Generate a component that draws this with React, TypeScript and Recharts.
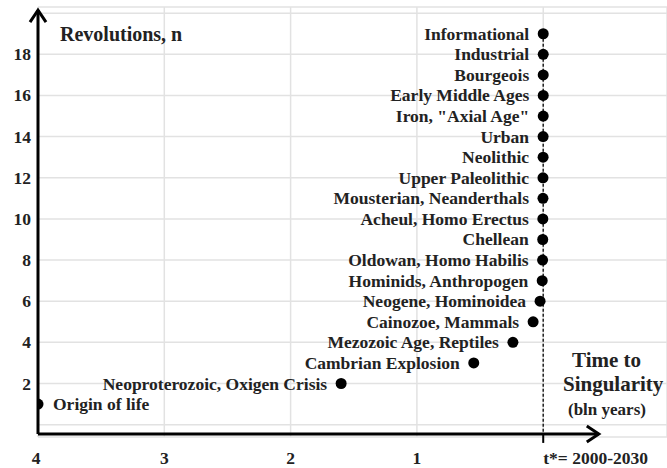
import React from 'react';
import { ScatterChart, Scatter, XAxis, YAxis, CartesianGrid, ReferenceLine } from 'recharts';

// revolutions, bottom to top
const revolutionNames = [
    'Origin of life',
    'Neoproterozoic, Oxigen Crisis',
    'Cambrian Explosion',
    'Mezozoic Age, Reptiles',
    'Cainozoe, Mammals',
    'Neogene, Hominoidea',
    'Hominids, Anthropogen',
    'Oldowan, Homo Habilis',
    'Chellean',
    'Acheul, Homo Erectus',
    'Mousterian, Neanderthals',
    'Upper Paleolithic',
    'Neolithic',
    'Urban',
    'Iron, "Axial Age"',
    'Early Middle Ages',
    'Bourgeois',
    'Industrial',
    'Informational',
];
const revolutionNumbers = [1, 2, 3, 4, 5, 6, 7, 8, 9, 10, 11, 12, 13, 14, 15, 16, 17, 18, 19];
// time to singularity, bln years
const timeToSingularity = [4, 1.6, 0.55, 0.24, 0.08, 0.025, 0.008, 0.005, 0.004, 0.003, 0.002, 0.002, 0.001, 0.001, 0, 0, 0, 0, 0];

const xTicks = [4, 3, 2, 1, 0];
const xTickLabels = ['4', '3', '2', '1', 't*= 2000-2030'];
const yTicks = [0, 2, 4, 6, 8, 10, 12, 14, 16, 18, 20];

const FONT = "'Liberation Serif', 'DejaVu Serif', 'Times New Roman', Times, serif";
const textStyle = { fontFamily: FONT, fontWeight: 700 } as const;

const data = revolutionNames.map((name, i) => ({
    name,
    n: revolutionNumbers[i],
    t: timeToSingularity[i],
}));

const PointShape = (props: any) => {
    const { cx, cy, payload } = props;
    const onRight = payload.t >= 4;
    return (
        <g>
            <circle cx={cx} cy={cy} r={5.5} fill="#000" />
            <text
                x={onRight ? cx + 15 : cx - 14}
                y={cy + 6}
                textAnchor={onRight ? 'start' : 'end'}
                style={{ ...textStyle, fontSize: 17.5 }}
                fill="#222"
            >
                {payload.name}
            </text>
        </g>
    );
};

const XTick = (props: any) => {
    const { x, y, payload } = props;
    const idx = xTicks.indexOf(payload.value);
    const isZero = payload.value === 0;
    return (
        <text
            x={payload.value === 4 ? x - 2 : x}
            y={y + 19}
            textAnchor={isZero ? 'start' : 'middle'}
            style={{ ...textStyle, fontSize: 17.5 }}
            fill="#222"
        >
            {xTickLabels[idx]}
        </text>
    );
};

const YTick = (props: any) => {
    const { x, y, payload } = props;
    if (payload.value === 0 || payload.value === 20) return <g />;
    return (
        <text x={x + 1} y={y + 6} textAnchor="end" style={{ ...textStyle, fontSize: 17.5 }} fill="#222">
            {payload.value}
        </text>
    );
};

const ArrowLine = (props: any) => {
    const { x1, y1, x2, y2 } = props;
    const vertical = Math.abs(x1 - x2) < 1;
    const head = vertical
        ? `M ${x2 - 8} ${y2 + 12} L ${x2} ${y2} L ${x2 + 8} ${y2 + 12}`
        : `M ${x2 - 12} ${y2 - 8} L ${x2} ${y2} L ${x2 - 12} ${y2 + 8}`;
    return (
        <g>
            <line x1={x1} y1={y1} x2={x2} y2={y2} stroke="#000" strokeWidth={3} />
            <path d={head} fill="none" stroke="#000" strokeWidth={3} />
        </g>
    );
};

const DashedLine = (props: any) => {
    const { x1, y1, x2, y2 } = props;
    const top = Math.min(y1, y2);
    const bottom = Math.max(y1, y2);
    return (
        <g>
            <line x1={x1} y1={top} x2={x2} y2={bottom} stroke="#222" strokeWidth={1.5} strokeDasharray="3 2" />
            <line x1={x1} y1={bottom} x2={x2} y2={bottom + 9} stroke="#000" strokeWidth={2} />
        </g>
    );
};

export default function App() {
    return (
        <div style={{ position: 'absolute', left: 0, top: 0, width: 667, height: 468, background: '#fff' }}>
            <ScatterChart width={667} height={468} margin={{ top: 7, right: 0, bottom: 0, left: 0 }}>
                <CartesianGrid stroke="#e2e2e2" strokeWidth={1.5} />
                <XAxis
                    type="number"
                    dataKey="t"
                    domain={[-0.98, 4]}
                    reversed
                    allowDataOverflow
                    ticks={xTicks}
                    tick={<XTick />}
                    axisLine={false}
                    tickLine={false}
                    height={31}
                    interval={0}
                />
                <YAxis
                    type="number"
                    dataKey="n"
                    domain={[-0.6, 20.3]}
                    allowDataOverflow
                    ticks={yTicks}
                    tick={<YTick />}
                    axisLine={false}
                    tickLine={false}
                    width={38}
                    interval={0}
                    label={{
                        content: () => (
                            <g fill="#222">
                                <text x={60} y={41} style={{ ...textStyle, fontSize: 20 }}>Revolutions, n</text>
                                <text x={572} y={367} style={{ ...textStyle, fontSize: 21 }}>Time to</text>
                                <text x={563} y={391} style={{ ...textStyle, fontSize: 21 }}>Singularity</text>
                                <text x={568} y={415} style={{ ...textStyle, fontSize: 17 }}>(bln years)</text>
                            </g>
                        ),
                    }}
                />
                <ReferenceLine
                    segment={[{ x: 0, y: 19 }, { x: 0, y: -0.45 }]}
                    shape={<DashedLine />}
                />
                <ReferenceLine
                    segment={[{ x: 4, y: -0.45 }, { x: -0.44, y: -0.45 }]}
                    shape={<ArrowLine />}
                />
                <ReferenceLine
                    segment={[{ x: 4, y: -0.45 }, { x: 4, y: 20.15 }]}
                    shape={<ArrowLine />}
                />
                <Scatter data={data} shape={<PointShape />} isAnimationActive={false} />
            </ScatterChart>
        </div>
    );
}
